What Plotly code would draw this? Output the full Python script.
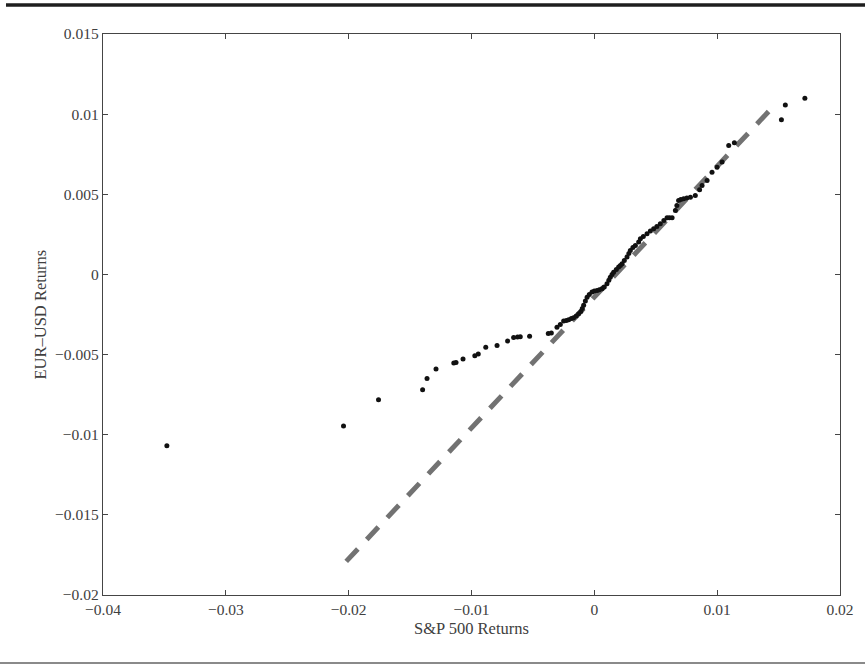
import plotly.graph_objects as go

# Quantile-quantile pairs: sorted S&P 500 daily returns vs sorted EUR-USD daily returns
sp500_q = [
    -0.03480, -0.02042, -0.01757, -0.01398, -0.01362, -0.01289, -0.01144, -0.01126,
    -0.01069, -0.00973, -0.00945, -0.00884, -0.00792, -0.00706, -0.00657, -0.00625,
    -0.00603, -0.00527, -0.00375, -0.00350, -0.00304, -0.00277, -0.00250, -0.00228,
    -0.00209, -0.00187, -0.00169, -0.00147, -0.00128, -0.00110, -0.00098, -0.00087,
    -0.00073, -0.00059, -0.00041, -0.00019, 0.00000, 0.00022, 0.00041, 0.00063,
    0.00081, 0.00103, 0.00118, 0.00130, 0.00144, 0.00157, 0.00179, 0.00198,
    0.00212, 0.00226, 0.00244, 0.00266, 0.00281, 0.00293, 0.00314, 0.00334,
    0.00361, 0.00375, 0.00399, 0.00429, 0.00456, 0.00483, 0.00509, 0.00537,
    0.00566, 0.00592, 0.00611, 0.00633, 0.00660, 0.00672, 0.00686, 0.00704,
    0.00727, 0.00753, 0.00782, 0.00822, 0.00857, 0.00877, 0.00918, 0.00958,
    0.00999, 0.01040, 0.01094, 0.01140, 0.01523, 0.01555, 0.01714,
]
eurusd_q = [
    -0.01069, -0.00945, -0.00782, -0.00719, -0.00650, -0.00590, -0.00553, -0.00549,
    -0.00528, -0.00507, -0.00497, -0.00454, -0.00444, -0.00415, -0.00394, -0.00390,
    -0.00389, -0.00385, -0.00369, -0.00365, -0.00329, -0.00312, -0.00291, -0.00287,
    -0.00283, -0.00275, -0.00270, -0.00259, -0.00245, -0.00231, -0.00212, -0.00193,
    -0.00165, -0.00142, -0.00125, -0.00110, -0.00103, -0.00100, -0.00095, -0.00089,
    -0.00078, -0.00058, -0.00037, -0.00017, 0.00000, 0.00014, 0.00031, 0.00046,
    0.00056, 0.00067, 0.00087, 0.00108, 0.00131, 0.00150, 0.00168, 0.00181,
    0.00202, 0.00223, 0.00237, 0.00254, 0.00271, 0.00285, 0.00299, 0.00316,
    0.00337, 0.00354, 0.00354, 0.00354, 0.00399, 0.00430, 0.00462, 0.00468,
    0.00472, 0.00477, 0.00482, 0.00493, 0.00528, 0.00555, 0.00586, 0.00638,
    0.00669, 0.00701, 0.00805, 0.00822, 0.00965, 0.01057, 0.01099,
]

# Reference line through the quartiles, extended across the data
ref_x = [-0.0202, 0.0146]
ref_y = [-0.0179, 0.0105]

x_ticks = [-0.04, -0.03, -0.02, -0.01, 0, 0.01, 0.02]
x_tick_labels = ["\u22120.04", "\u22120.03", "\u22120.02", "\u22120.01", "0", "0.01", "0.02"]
y_ticks = [-0.02, -0.015, -0.01, -0.005, 0, 0.005, 0.01, 0.015]
y_tick_labels = ["\u22120.02", "\u22120.015", "\u22120.01", "\u22120.005", "0", "0.005", "0.01", "0.015"]

FONT = "Liberation Serif, Times New Roman, serif"
TEXT = "#404040"
FRAME = "#454545"

fig = go.Figure()
fig.add_trace(go.Scatter(
    x=ref_x, y=ref_y, mode="lines",
    line=dict(color="#727272", width=5, dash="17px,13px"),
    hoverinfo="skip", showlegend=False,
))
fig.add_trace(go.Scatter(
    x=sp500_q, y=eurusd_q, mode="markers",
    marker=dict(color="#111111", size=5, symbol="circle", line=dict(width=0)),
    showlegend=False,
))

axis_common = dict(
    showgrid=False, zeroline=False, showline=True, linecolor=FRAME, linewidth=1.4,
    mirror="allticks", ticks="inside", ticklen=5, tickwidth=1.2, tickcolor=FRAME,
    tickfont=dict(family=FONT, size=15.5, color=TEXT),
)

fig.update_xaxes(range=[-0.04, 0.02], tickvals=x_ticks, ticktext=x_tick_labels, **axis_common)
fig.update_yaxes(range=[-0.02, 0.015], tickvals=y_ticks, ticktext=y_tick_labels, **axis_common)

W, H = 865, 669
L, R, T, B = 103, 25, 34, 74
pw, ph = W - L - R, H - T - B

fig.update_layout(
    width=W, height=H,
    margin=dict(l=L, r=R, t=T, b=B),
    paper_bgcolor="white", plot_bgcolor="white",
    annotations=[
        dict(text="S&P 500 Returns", xref="paper", yref="paper",
             x=0.5, y=-(628 - (H - B)) / ph, xanchor="center", yanchor="middle",
             showarrow=False, font=dict(family=FONT, size=16.5, color=TEXT)),
        dict(text="EUR–USD Returns", xref="paper", yref="paper",
             x=-(L - 40) / pw, y=0.5, xanchor="center", yanchor="middle", textangle=-90,
             showarrow=False, font=dict(family=FONT, size=16.5, color=TEXT)),
    ],
    shapes=[
        # heavy rule across the top of the figure
        dict(type="line", xref="paper", yref="paper",
             x0=-(L - 6) / pw, x1=(W - L) / pw,
             y0=1 + (T - 5) / ph, y1=1 + (T - 5) / ph,
             line=dict(color="#1e1e1e", width=3.5)),
        # light rule along the bottom
        dict(type="line", xref="paper", yref="paper",
             x0=-L / pw, x1=(W - L) / pw,
             y0=-(663 - (H - B)) / ph, y1=-(663 - (H - B)) / ph,
             line=dict(color="#8a8a8a", width=2)),
    ],
)

fig.write_html("out.html")
